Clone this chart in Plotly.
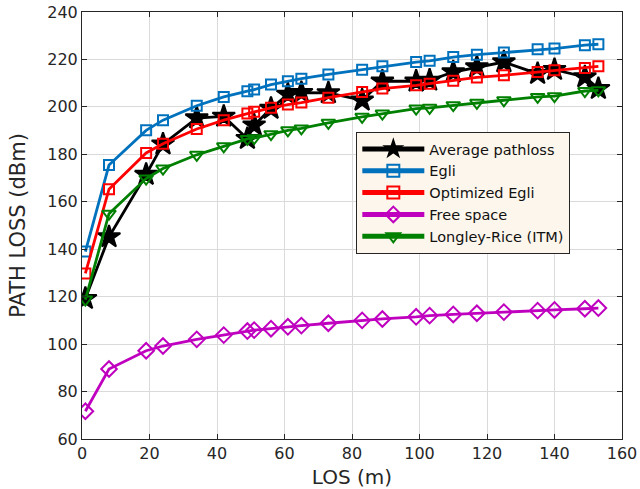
import plotly.graph_objects as go

los = [1, 8, 19, 24, 34, 42, 49, 51, 56, 61, 65, 73, 83, 89, 99, 103, 110, 117, 125, 135, 140, 149, 153]
avg_pathloss = [119.2, 145.2, 171.5, 184.3, 195.3, 196.0, 186.6, 192.3, 199.3, 205.3, 206.0, 205.9,
                202.8, 210.8, 210.8, 211.2, 214.7, 216.8, 218.9, 214.0, 215.7, 212.6, 207.7]
egli = [139.0, 175.5, 190.1, 194.4, 200.5, 204.2, 206.6, 207.3, 209.4, 210.8, 211.9, 213.7,
        215.7, 217.1, 218.9, 219.4, 221.0, 222.0, 222.9, 224.3, 224.6, 226.0, 226.4]
opt_egli = [129.8, 165.3, 180.6, 184.5, 190.7, 194.4, 197.2, 197.9, 199.6, 201.0, 201.8, 203.9,
            206.3, 207.7, 209.1, 209.8, 211.0, 212.4, 213.3, 214.7, 215.4, 216.4, 217.1]
free_space = [71.7, 89.5, 97.2, 99.2, 102.0, 103.8, 105.5, 105.9, 106.5, 107.3, 107.8, 108.8,
              110.0, 110.6, 111.5, 112.0, 112.5, 113.0, 113.5, 114.1, 114.4, 114.9, 115.2]
longley = [118.8, 155.0, 169.8, 174.0, 179.8, 183.4, 186.5, 186.8, 188.5, 190.1, 190.9, 193.3,
           195.8, 197.2, 199.3, 199.6, 200.7, 201.7, 202.8, 204.2, 204.5, 206.7, 207.0]

series = [
    ("Average pathloss", avg_pathloss, "black", "star", 17),
    ("Egli", egli, "#0072BD", "square-open", 10),
    ("Optimized Egli", opt_egli, "#FF0000", "square-open", 10),
    ("Free space", free_space, "#BF00BF", "diamond-open", 12),
    ("Longley-Rice (ITM)", longley, "#008000", "triangle-down-open", 12),
]

FONT = "DejaVu Sans"

fig = go.Figure()
for name, vals, color, sym, size in series:
    fig.add_trace(go.Scatter(
        x=los, y=vals, name=name, mode="lines+markers",
        line=dict(color=color, width=2.8),
        marker=dict(symbol=sym, size=size, color=color, line=dict(color=color, width=2)),
    ))

axis_common = dict(
    showline=True, linecolor="#262626", linewidth=1, mirror="ticks",
    ticks="inside", ticklen=5, tickcolor="#262626",
    showgrid=True, gridcolor="#DADADA", gridwidth=1, zeroline=False,
    automargin=False,
    tickfont=dict(family=FONT, size=16, color="#262626"),
)

fig.update_layout(
    width=640, height=489,
    margin=dict(l=82, r=18, t=12, b=50),
    paper_bgcolor="white", plot_bgcolor="white",
    font=dict(family=FONT, color="#262626"),
    xaxis=dict(range=[0, 160], dtick=20,
               title=dict(text="LOS (m)", font=dict(family=FONT, size=20)), **axis_common),
    yaxis=dict(range=[60, 240], dtick=20,
               title=dict(text="PATH LOSS (dBm)", font=dict(family=FONT, size=21)), **axis_common),
    legend=dict(x=0.508, y=0.719, xanchor="left", yanchor="top",
                bgcolor="#FDF6EC", bordercolor="#262626", borderwidth=1,
                font=dict(family=FONT, size=14.5, color="#111111"),
                tracegroupgap=0, itemwidth=62, itemsizing="constant"),
    showlegend=True,
)

fig.write_html("out.html")
